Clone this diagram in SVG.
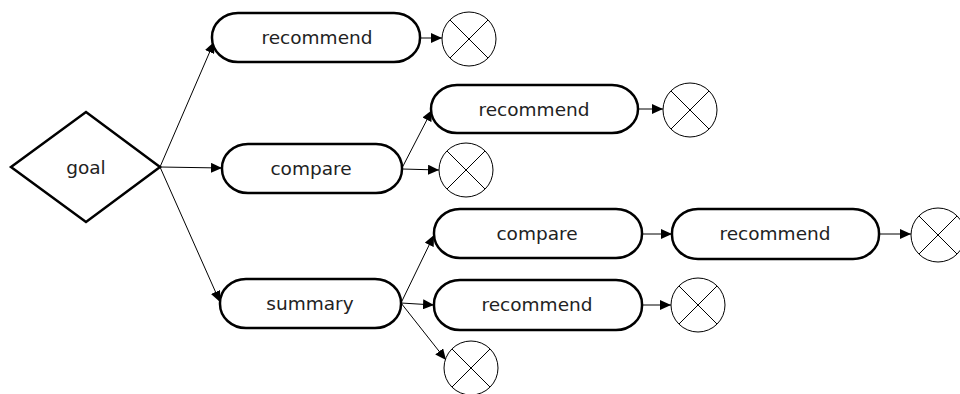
<svg xmlns="http://www.w3.org/2000/svg" width="960" height="394" viewBox="0 0 960 394">
<style>
.n{fill:#fff;stroke:#000;stroke-width:2.5}
.t{font-family:"DejaVu Sans",sans-serif;font-size:18.5px;fill:#222;text-anchor:middle;dominant-baseline:central}
.e{fill:#fff;stroke:#000;stroke-width:1}
.x{stroke:#000;stroke-width:1}
.c{fill:none;stroke:#000;stroke-width:1;marker-end:url(#a)}
</style>
<defs>
<marker id="a" markerUnits="userSpaceOnUse" markerWidth="12" markerHeight="10" refX="11" refY="5" orient="auto">
<path d="M0,0 L11,5 L0,10 Z" fill="#000"/>
</marker>
<g id="end">
<circle r="27" class="e"/>
<line x1="-19" y1="-19" x2="19" y2="19" class="x"/>
<line x1="-19" y1="19" x2="19" y2="-19" class="x"/>
</g>
</defs>
<rect width="960" height="394" fill="#fff"/>
<g id="connectors">
<path class="c" d="M160,167 L214,42"/>
<path class="c" d="M160,167 L222,168"/>
<path class="c" d="M160,167 L220,302"/>
<path class="c" d="M420,38 L442,38"/>
<path class="c" d="M402,168 L432,110"/>
<path class="c" d="M402,169 L439,170"/>
<path class="c" d="M638,109 L663,109"/>
<path class="c" d="M401,303 L434,235"/>
<path class="c" d="M401,303 L434,305"/>
<path class="c" d="M401,303 L446,360"/>
<path class="c" d="M642,234 L672,234"/>
<path class="c" d="M879,234 L911,234"/>
<path class="c" d="M642,305 L671,305"/>
</g>
<g id="goal">
<polygon class="n" points="11,167 86,112 160,167 86,222"/>
<text class="t" x="86" y="167">goal</text>
</g>
<g id="recommend1">
<rect class="n" x="212" y="13" width="208" height="49" rx="26" ry="24"/>
<text class="t" x="317" y="37">recommend</text>
</g>
<g id="end1"><use href="#end" x="469" y="39"/></g>
<g id="compare1">
<rect class="n" x="222" y="144" width="180" height="49" rx="26" ry="24"/>
<text class="t" x="311" y="168">compare</text>
</g>
<g id="recommend2">
<rect class="n" x="431" y="85" width="207" height="48" rx="26" ry="24"/>
<text class="t" x="534" y="109">recommend</text>
</g>
<g id="end2"><use href="#end" x="690" y="110"/></g>
<g id="end3"><use href="#end" x="466" y="170"/></g>
<g id="summary">
<rect class="n" x="220" y="279" width="181" height="49" rx="26" ry="24"/>
<text class="t" x="310" y="303">summary</text>
</g>
<g id="compare2">
<rect class="n" x="434" y="209" width="208" height="49" rx="26" ry="24"/>
<text class="t" x="537" y="233">compare</text>
</g>
<g id="recommend4">
<rect class="n" x="672" y="209" width="207" height="50" rx="26" ry="24"/>
<text class="t" x="775" y="233">recommend</text>
</g>
<g id="end4"><use href="#end" x="938" y="235"/></g>
<g id="recommend3">
<rect class="n" x="434" y="280" width="208" height="50" rx="26" ry="24"/>
<text class="t" x="537" y="304">recommend</text>
</g>
<g id="end5"><use href="#end" x="698" y="305"/></g>
<g id="end6"><use href="#end" x="471" y="368"/></g>
</svg>
